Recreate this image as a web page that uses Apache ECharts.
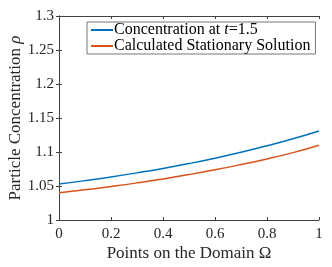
<!DOCTYPE html>
<html><head><meta charset="utf-8">
<script src="https://cdn.jsdelivr.net/npm/echarts@6/dist/echarts.min.js"></script>
<style>html,body{margin:0;padding:0;background:#fff}#c{width:332px;height:267px}</style>
</head><body><div id="c"></div>
<script>
var xs = [0, 0.1, 0.2, 0.3, 0.4, 0.5, 0.6, 0.7, 0.8, 0.9, 1.0];
var concentration = [1.0530, 1.0579, 1.0633, 1.0693, 1.0758, 1.0830, 1.0909, 1.0996, 1.1091, 1.1195, 1.1310];
var stationary = [1.0400, 1.0444, 1.0493, 1.0546, 1.0604, 1.0668, 1.0738, 1.0815, 1.0898, 1.0991, 1.1100];
var xTicks = [0, 0.2, 0.4, 0.6, 0.8, 1];
var yTicks = [1, 1.05, 1.1, 1.15, 1.2, 1.25, 1.3];

var font = 'Liberation Serif';
var axisCol = '#404040';
function pairs(ys){ return xs.map(function(x,i){return [x, ys[i]];}); }
var chart = echarts.init(document.getElementById('c'));
var baseX = {type:'value', min:0, max:1, interval:0.2,
  axisLine:{show:true,lineStyle:{color:axisCol,width:1}},
  axisTick:{show:true,inside:true,length:3,lineStyle:{color:axisCol}},
  splitLine:{show:false}};
var baseY = {type:'value', min:1, max:1.3, interval:0.05,
  axisLine:{show:true,lineStyle:{color:axisCol,width:1}},
  axisTick:{show:true,inside:true,length:3,lineStyle:{color:axisCol}},
  splitLine:{show:false}};
chart.setOption({
  animation:false,
  grid:{left:59, top:16, width:260, height:204, containLabel:false, outerBoundsMode:'none'},
  xAxis:[
    Object.assign({}, baseX, {position:'bottom',
      name:'Points on the Domain Ω', nameLocation:'middle', nameGap:25, nameMoveOverlap:false,
      nameTextStyle:{fontFamily:font, fontSize:17, color:'#262626'},
      axisLabel:{fontFamily:font, fontSize:15, color:'#262626', margin:7,
        formatter:function(v){return String(+v.toFixed(2));}}}),
    Object.assign({}, baseX, {position:'top', axisLabel:{show:false}})
  ],
  yAxis:[
    Object.assign({}, baseY, {position:'left',
      name:'Particle Concentration {i|ρ}', nameLocation:'middle', nameGap:35, nameMoveOverlap:false,
      nameTextStyle:{fontFamily:font, fontSize:17, color:'#262626',
        rich:{i:{fontFamily:font, fontSize:17, fontStyle:'italic', color:'#262626'}}},
      axisLabel:{fontFamily:font, fontSize:15, color:'#262626', margin:5,
        formatter:function(v){return String(+v.toFixed(2));}}}),
    Object.assign({}, baseY, {position:'right', axisLabel:{show:false}})
  ],
  legend:{
    orient:'vertical', left:87, top:22, itemWidth:22, itemHeight:2, itemGap:0,
    padding:[0,5,0,4], backgroundColor:'#fff', borderColor:'#777', borderWidth:1,
    icon:'rect',
    textStyle:{fontFamily:font, fontSize:16, color:'#000', padding:[0,0,0,-4], lineHeight:16,
      rich:{i:{fontFamily:font, fontSize:16, fontStyle:'italic', color:'#000', lineHeight:16}}},
    formatter:function(n){
      if(n.indexOf('t=')>=0) return 'Concentration at {i|t}=1.5';
      return n;
    },
    data:['Concentration at t=1.5','Calculated Stationary Solution']
  },
  series:[
    {name:'Concentration at t=1.5', type:'line', smooth:true, showSymbol:false,
      data:pairs(concentration), lineStyle:{color:'#0072BD', width:1.5}, itemStyle:{color:'#0072BD'}},
    {name:'Calculated Stationary Solution', type:'line', smooth:true, showSymbol:false,
      data:pairs(stationary), lineStyle:{color:'#D95319', width:1.5}, itemStyle:{color:'#D95319'}}
  ]
});
</script></body></html>
